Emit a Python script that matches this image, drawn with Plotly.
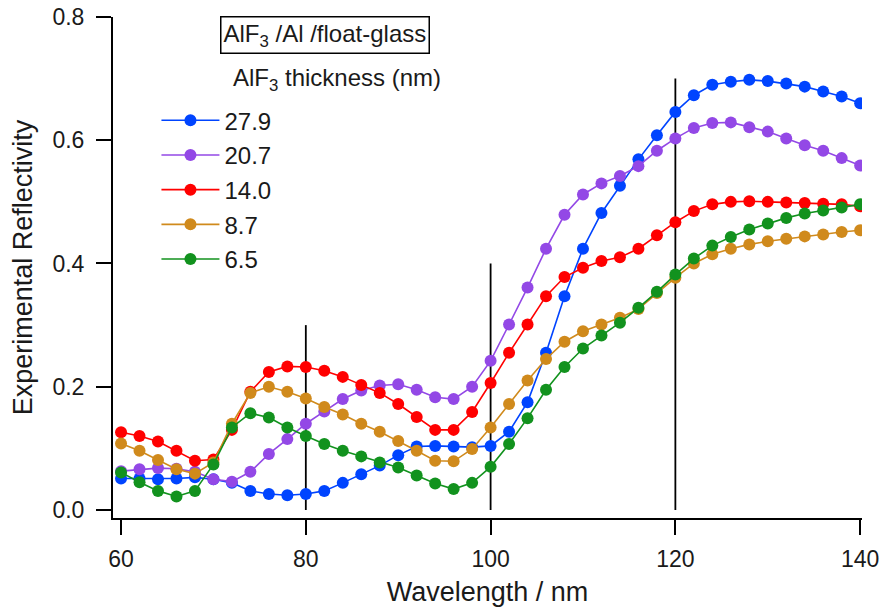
import plotly.graph_objects as go

wavelength = [60, 62, 64, 66, 68, 70, 72, 74, 76, 78,
              80, 82, 84, 86, 88, 90, 92, 94, 96, 98,
              100, 102, 104, 106, 108, 110, 112, 114, 116, 118,
              120, 122, 124, 126, 128, 130, 132, 134, 136, 138, 140]

r_27_9 = [0.051, 0.051, 0.050, 0.051, 0.053, 0.050, 0.044, 0.031, 0.026, 0.024,
          0.026, 0.031, 0.044, 0.058, 0.072, 0.089, 0.103, 0.104, 0.103, 0.102,
          0.104, 0.127, 0.175, 0.255, 0.347, 0.424, 0.482, 0.526, 0.569, 0.608,
          0.646, 0.673, 0.690, 0.695, 0.698, 0.696, 0.692, 0.687, 0.679, 0.671, 0.660]

r_20_7 = [0.063, 0.066, 0.068, 0.067, 0.062, 0.050, 0.046, 0.062, 0.091, 0.115,
          0.140, 0.160, 0.180, 0.194, 0.202, 0.204, 0.195, 0.183, 0.180, 0.200,
          0.242, 0.301, 0.361, 0.424, 0.479, 0.512, 0.530, 0.542, 0.558, 0.583,
          0.603, 0.620, 0.628, 0.629, 0.621, 0.614, 0.603, 0.592, 0.583, 0.571, 0.559]

r_14_0 = [0.126, 0.120, 0.111, 0.096, 0.080, 0.082, 0.130, 0.192, 0.224, 0.233,
          0.232, 0.226, 0.216, 0.203, 0.190, 0.172, 0.151, 0.130, 0.130, 0.159,
          0.206, 0.255, 0.301, 0.347, 0.378, 0.393, 0.404, 0.410, 0.424, 0.446,
          0.467, 0.485, 0.496, 0.500, 0.501, 0.500, 0.499, 0.498, 0.497, 0.496, 0.493]

r_8_7 = [0.108, 0.096, 0.081, 0.066, 0.059, 0.077, 0.140, 0.190, 0.200, 0.192,
         0.181, 0.167, 0.155, 0.140, 0.127, 0.112, 0.096, 0.080, 0.079, 0.099,
         0.134, 0.172, 0.210, 0.245, 0.273, 0.290, 0.301, 0.312, 0.326, 0.352,
         0.377, 0.400, 0.415, 0.424, 0.431, 0.436, 0.440, 0.444, 0.447, 0.451, 0.454]

r_6_5 = [0.061, 0.045, 0.031, 0.022, 0.031, 0.074, 0.134, 0.157, 0.150, 0.134,
         0.120, 0.107, 0.096, 0.087, 0.077, 0.069, 0.056, 0.043, 0.034, 0.044,
         0.070, 0.107, 0.149, 0.195, 0.232, 0.262, 0.283, 0.304, 0.328, 0.354,
         0.382, 0.408, 0.429, 0.443, 0.455, 0.465, 0.474, 0.481, 0.486, 0.491, 0.496]

series_names = ["27.9", "20.7", "14.0", "8.7", "6.5"]
series_values = [r_27_9, r_20_7, r_14_0, r_8_7, r_6_5]
series_colors = ["#0044ff", "#9348e6", "#ff0000", "#d08a1c", "#12921e"]

guide_x = [80, 100, 120]
guide_top = [0.30, 0.40, 0.70]

x_ticks = [60, 80, 100, 120, 140]
y_ticks = [0.0, 0.2, 0.4, 0.6, 0.8]

FONT = "Liberation Sans, Arial, sans-serif"

fig = go.Figure()

for gx, gt in zip(guide_x, guide_top):
    fig.add_trace(go.Scatter(x=[gx, gx], y=[0, gt], mode="lines",
                             line=dict(color="black", width=1.8),
                             showlegend=False, hoverinfo="skip"))

for name, vals, col in zip(series_names, series_values, series_colors):
    fig.add_trace(go.Scatter(
        x=wavelength, y=vals, mode="lines+markers", name=name,
        legendgroup=name,
        line=dict(color=col, width=1.6),
        marker=dict(color=col, size=12, line=dict(width=0)),
    ))

fig.update_layout(
    width=881, height=607,
    margin=dict(l=113, r=19, t=17, b=89, autoexpand=False),
    paper_bgcolor="white", plot_bgcolor="white",
    font=dict(family=FONT, color="#1a1a1a", size=23),
    showlegend=True,
    legend=dict(x=0.058, y=0.838, xanchor="left", yanchor="top",
                bgcolor="rgba(0,0,0,0)", font=dict(size=24, family=FONT),
                tracegroupgap=0.5, itemwidth=58),
    xaxis=dict(range=[59.13, 140.2], tickvals=x_ticks, ticktext=[str(v) for v in x_ticks],
               showline=True, linecolor="black", linewidth=2,
               ticks="outside", ticklen=15, tickwidth=2, tickcolor="black",
               ticklabelstandoff=4,
               showgrid=False, zeroline=False, automargin=False,
               tickfont=dict(size=23, family=FONT),
               title=dict(text="Wavelength / nm", font=dict(size=27, family=FONT), standoff=18)),
    yaxis=dict(range=[-0.013, 0.8], tickvals=y_ticks, ticktext=[f"{v:.1f}" for v in y_ticks],
               showline=True, linecolor="black", linewidth=2,
               ticks="outside", ticklen=15, tickwidth=2, tickcolor="black",
               ticklabelstandoff=7,
               showgrid=False, zeroline=False, automargin=False,
               tickfont=dict(size=23, family=FONT),
               title=dict(text="Experimental Reflectivity", font=dict(size=27, family=FONT), standoff=12)),
    annotations=[
        dict(text="AlF<sub>3</sub> /Al /float-glass", xref="paper", yref="paper",
             x=0.283, y=0.964, xanchor="center", yanchor="middle", showarrow=False,
             font=dict(size=24, family=FONT, color="#1a1a1a"),
             bordercolor="black", borderwidth=1.5, borderpad=2, bgcolor="white"),
        dict(text="AlF<sub>3</sub> thickness (nm)", xref="paper", yref="paper",
             x=0.299, y=0.876, xanchor="center", yanchor="middle", showarrow=False,
             font=dict(size=24, family=FONT, color="#1a1a1a")),
    ],
)

fig.write_html("out.html")
